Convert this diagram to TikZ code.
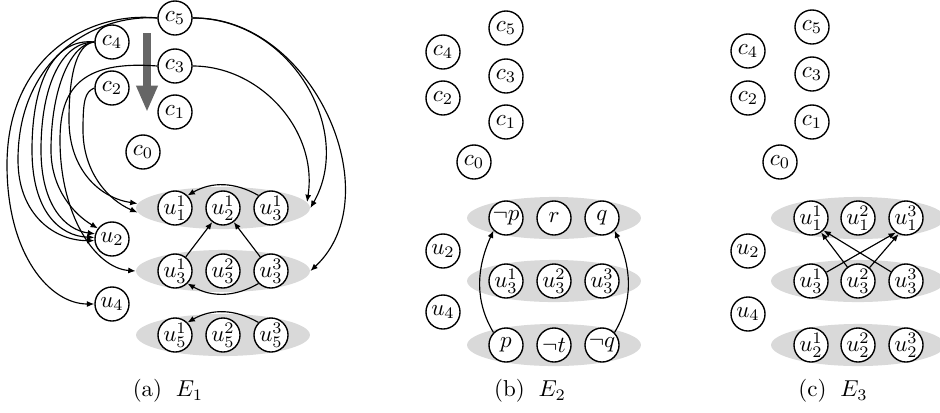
\documentclass[tikz,border=0pt]{standalone}
\usetikzlibrary{arrows.meta,shapes.geometric}
\begin{document}
\begin{tikzpicture}[x=0.4348pt,y=-0.4348pt,
  vnode/.style={circle,draw,line width=0.6pt,fill=white,minimum size=14.8pt,inner sep=0pt},
  grp/.style={ellipse,fill=black!15,minimum width=75.6pt,minimum height=18.3pt,inner sep=0pt},
  edge/.style={line width=0.5pt,-{Latex[length=3.2pt,width=2.6pt]}},
  bigarrow/.style={line width=3.5pt,black!60,-{Triangle[length=11.5pt,width=8.7pt]}},
  captext/.style={inner sep=0pt}
]
\useasboundingbox (0,0) rectangle (940,412);

% ---------------- panel (a)
\node[grp] (aR1) at (223,208) {};
\node[grp] (aR2) at (223,271) {};
\node[grp] (aR3) at (223,335) {};
\node[vnode] (a5) at (175,18) {$c_5$};
\node[vnode] (a4) at (112,42) {$c_4$};
\node[vnode] (a3) at (175,66) {$c_3$};
\node[vnode] (a2) at (112,88) {$c_2$};
\node[vnode] (a1) at (175,112) {$c_1$};
\node[vnode] (a0) at (143,152) {$c_0$};
\node[vnode] (au2) at (112,239) {$u_2$};
\node[vnode] (au4) at (112,304) {$u_4$};
\node[vnode] (a11) at (175,208) {$u_1^1$};
\node[vnode] (a12) at (223,208) {$u_2^1$};
\node[vnode] (a13) at (271,208) {$u_3^1$};
\node[vnode] (a31) at (175,271) {$u_3^1$};
\node[vnode] (a32) at (223,271) {$u_3^2$};
\node[vnode] (a33) at (271,271) {$u_3^3$};
\node[vnode] (a51) at (175,335) {$u_5^1$};
\node[vnode] (a52) at (223,335) {$u_5^2$};
\node[vnode] (a53) at (271,335) {$u_5^3$};
\coordinate (gtop) at (147,33);
\coordinate (gbot) at (147,112);
\draw[bigarrow] (gtop) -- (gbot);
\node[captext] (capa) at (168,391) {(a)\hspace{6pt}$E_1$};

\draw[edge] (a13.135) to[bend right=30] (a11.45);
\draw[edge] (a31) -- (a12);
\draw[edge] (a33) -- (a12);
\draw[edge] (a33.225) to[bend left=30] (a31.315);
\draw[edge] (a53.135) to[bend right=30] (a51.45);

% right arcs
\draw[edge] (a5.east) .. controls (290,18) and (355,130) .. (aR1.east);
\draw[edge] (a5.east) .. controls (312,16) and (392,195) .. (aR2.east);
\draw[edge] (a3.east) .. controls (260,66) and (318,130) .. (aR1.4);
% left arcs
\draw[edge] (a5.west) .. controls (90,11) and (7,55) .. (7,165) .. controls (7,255) and (50,304) .. (au4.west);
\draw[edge] (a5.west) .. controls (95,14) and (18,58) .. (18,160) .. controls (18,215) and (55,241) .. (au2.185);
\draw[edge] (a4.west) .. controls (55,38) and (32,80) .. (32,150) .. controls (32,212) and (60,236) .. (au2.175);
\draw[edge] (a4.west) .. controls (62,42) and (41,85) .. (41,150) .. controls (41,205) and (65,230) .. (au2.163);
\draw[edge] (a4.west) .. controls (70,44) and (51,90) .. (51,150) .. controls (51,190) and (75,215) .. (au2.143);
\draw[edge] (a3.west) .. controls (80,60) and (60,90) .. (60,140) .. controls (60,215) and (95,268) .. (aR2.west);
\draw[edge] (a4.west) .. controls (75,44) and (69,80) .. (69,120) .. controls (69,170) and (100,198) .. (aR1.177);
\draw[edge] (a2.west) .. controls (85,92) and (83,100) .. (83,130) .. controls (83,172) and (108,200) .. (aR1.183);

% ---------------- panel (b)
\begin{scope}[shift={(331,10)}]
\node[grp] (bR1) at (223,208) {};
\node[grp] (bR2) at (223,271) {};
\node[grp] (bR3) at (223,335) {};
\node[vnode] (b5) at (175,18) {$c_5$};
\node[vnode] (b4) at (112,42) {$c_4$};
\node[vnode] (b3) at (175,66) {$c_3$};
\node[vnode] (b2) at (112,88) {$c_2$};
\node[vnode] (b1) at (175,112) {$c_1$};
\node[vnode] (b0) at (143,152) {$c_0$};
\node[vnode] (bu2) at (112,241) {$u_2$};
\node[vnode] (bu4) at (112,302) {$u_4$};
\node[vnode] (bnp) at (175,208) {$\neg p$};
\node[vnode] (br) at (223,208) {$r$};
\node[vnode] (bq) at (271,208) {$q$};
\node[vnode] (b31) at (175,271) {$u_3^1$};
\node[vnode] (b32) at (223,271) {$u_3^2$};
\node[vnode] (b33) at (271,271) {$u_3^3$};
\node[vnode] (bp) at (175,335) {$p$};
\node[vnode] (bnt) at (223,335) {$\neg t$};
\node[vnode] (bnq) at (271,335) {$\neg q$};
\node[captext] (capb) at (199,381) {(b)\hspace{6pt}$E_2$};
\draw[edge] (bp.135) .. controls +(-18,-30) and +(-18,40) .. (bnp.225);
\draw[edge] (bnq.45) .. controls +(18,-30) and +(18,40) .. (bq.315);
\end{scope}

% ---------------- panel (c)
\begin{scope}[shift={(636,10)}]
\node[grp] (cR1) at (222,208) {};
\node[grp] (cR2) at (222,271) {};
\node[grp] (cR3) at (222,335) {};
\node[vnode] (c5) at (176,17) {$c_5$};
\node[vnode] (c4) at (112,41) {$c_4$};
\node[vnode] (c3) at (176,64) {$c_3$};
\node[vnode] (c2) at (112,88) {$c_2$};
\node[vnode] (c1) at (176,112) {$c_1$};
\node[vnode] (c0) at (144,152) {$c_0$};
\node[vnode] (cu2) at (112,241) {$u_2$};
\node[vnode] (cu4) at (112,304) {$u_4$};
\node[vnode] (c11) at (175,208) {$u_1^1$};
\node[vnode] (c12) at (222,208) {$u_1^2$};
\node[vnode] (c13) at (270,208) {$u_1^3$};
\node[vnode] (c31) at (175,271) {$u_3^1$};
\node[vnode] (c32) at (222,271) {$u_3^2$};
\node[vnode] (c33) at (270,271) {$u_3^3$};
\node[vnode] (c21) at (175,335) {$u_2^1$};
\node[vnode] (c22) at (222,335) {$u_2^2$};
\node[vnode] (c23) at (270,335) {$u_2^3$};
\node[captext] (capc) at (197,381) {(c)\hspace{6pt}$E_3$};
\draw[edge] (c31) -- (c13.235);
\draw[edge] (c32) -- (c11.305);
\draw[edge] (c32) -- (c13.245);
\draw[edge] (c33) -- (c11.315);
\end{scope}
\end{tikzpicture}
\end{document}
